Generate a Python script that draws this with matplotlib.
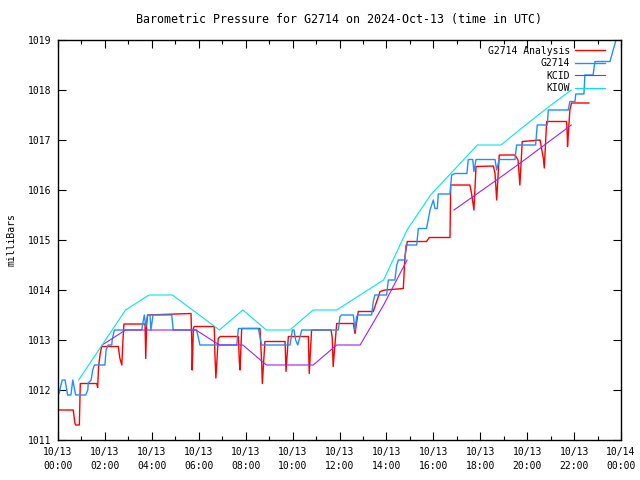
import numpy as np
import matplotlib
matplotlib.use("Agg")
import matplotlib.pyplot as plt

# time in hours since 2024-10-13 00:00 UTC, pressure in mb

# G2714 Analysis (red)
ana_t = [0.04, 0.65, 0.72, 0.75, 0.91, 0.95, 1.65, 1.69, 1.73, 1.80, 1.86, 2.57, 2.64, 2.72, 2.77, 2.81,
         3.71, 3.74, 3.78, 3.82, 5.67, 5.70, 5.72, 5.77, 5.81, 6.66, 6.69, 6.73, 6.83, 6.91, 7.69, 7.73,
         7.76, 7.83, 8.61, 8.68, 8.71, 8.82, 9.68, 9.72, 9.82, 10.67, 10.71, 10.81, 11.64, 11.69, 11.73,
         11.88, 12.59, 12.66, 12.80, 13.44, 13.73, 13.94, 14.72, 14.76, 14.79, 14.89, 15.71, 15.83, 16.71,
         16.74, 17.56, 17.63, 17.73, 17.82, 18.56, 18.63, 18.70, 18.81, 19.48, 19.61, 19.69, 19.79, 20.55,
         20.69, 20.73, 20.83, 21.68, 21.71, 21.72, 21.82, 21.89, 22.63]
ana_p = [1011.6, 1011.6, 1011.34, 1011.3, 1011.3, 1012.13, 1012.13, 1012.05, 1012.47, 1012.73, 1012.87,
         1012.87, 1012.63, 1012.5, 1013.0, 1013.32, 1013.32, 1012.63, 1013.32, 1013.5, 1013.53, 1012.97,
         1012.4, 1013.23, 1013.27, 1013.27, 1012.7, 1012.24, 1013.03, 1013.07, 1013.07, 1012.57, 1012.4,
         1013.23, 1013.23, 1012.57, 1012.13, 1012.97, 1012.97, 1012.37, 1013.07, 1013.07, 1012.33, 1013.2,
         1013.2, 1013.05, 1012.47, 1013.33, 1013.33, 1013.13, 1013.57, 1013.57, 1013.97, 1014.0, 1014.03,
         1014.4, 1014.67, 1014.97, 1014.97, 1015.05, 1015.05, 1016.1, 1016.1, 1015.93, 1015.6, 1016.47,
         1016.48, 1016.33, 1015.8, 1016.7, 1016.7, 1016.6, 1016.1, 1016.97, 1017.0, 1016.63, 1016.44,
         1017.37, 1017.37, 1017.1, 1016.87, 1017.6, 1017.74, 1017.74]

# G2714 station (blue)
stn_t = [0.04, 0.18, 0.30, 0.41, 0.55, 0.63, 0.75, 1.18, 1.27, 1.29, 1.41, 1.48, 1.55, 2.00, 2.05, 2.14,
         2.29, 2.31, 2.40, 3.57, 3.64, 3.68, 3.74, 3.82, 3.92, 3.96, 4.05, 4.13, 4.85, 4.91, 5.91, 6.05,
         7.62, 7.69, 8.54, 8.68, 9.89, 9.99, 10.06, 10.13, 10.22, 10.32, 10.39, 11.95, 12.02, 12.09, 12.59,
         12.66, 12.73, 12.80, 13.37, 13.44, 13.51, 14.01, 14.08, 14.36, 14.44, 14.51, 14.79, 14.83, 15.29,
         15.36, 15.71, 15.86, 16.00, 16.07, 16.17, 16.21, 16.71, 16.78, 16.92, 17.43, 17.49, 17.68, 17.73,
         17.82, 18.63, 18.70, 18.81, 19.48, 19.55, 20.36, 20.43, 20.86, 20.90, 21.75, 21.82, 22.04, 22.07,
         22.42, 22.46, 22.81, 22.89, 23.53, 23.81]
stn_p = [1011.93, 1012.2, 1012.2, 1011.9, 1011.9, 1012.2, 1011.9, 1011.9, 1012.0, 1012.14, 1012.2, 1012.4,
         1012.5, 1012.5, 1012.8, 1012.9, 1012.9, 1013.0, 1013.2, 1013.2, 1013.4, 1013.5, 1013.27, 1013.5,
         1013.5, 1013.2, 1013.5, 1013.5, 1013.5, 1013.2, 1013.2, 1012.9, 1012.9, 1013.23, 1013.23, 1012.9,
         1012.9, 1013.2, 1013.2, 1013.0, 1012.9, 1013.07, 1013.2, 1013.2, 1013.47, 1013.5, 1013.5, 1013.2,
         1013.47, 1013.5, 1013.5, 1013.77, 1013.9, 1013.9, 1014.2, 1014.2, 1014.5, 1014.6, 1014.6, 1014.9,
         1014.9, 1015.23, 1015.23, 1015.6, 1015.8, 1015.63, 1015.63, 1015.92, 1015.92, 1016.3, 1016.33,
         1016.33, 1016.61, 1016.61, 1016.37, 1016.61, 1016.61, 1016.4, 1016.61, 1016.61, 1016.9, 1016.9,
         1017.3, 1017.3, 1017.6, 1017.6, 1017.77, 1017.77, 1017.92, 1017.92, 1018.3, 1018.3, 1018.57,
         1018.57, 1019.04]

# KCID hourly obs (purple)
kcid_t = [1.88, 2.88, 3.88, 4.88, 5.88, 6.88, 7.88, 8.88, 9.88, 10.88, 11.88, 12.88, 13.88, 14.88,
          15.88, 16.88, 17.88, 18.88, 19.88, 20.88, 21.88]
kcid_p = [1012.9, 1013.2, 1013.2, 1013.2, 1013.2, 1012.9, 1012.9, 1012.5, 1012.5, 1012.5, 1012.9,
          1012.9, 1013.7, 1014.6, np.nan, 1015.6, 1015.93, 1016.26, 1016.6, 1016.95, 1017.3]

# KIOW hourly obs (cyan)
kiow_t = [0.88, 1.88, 2.88, 3.88, 4.88, 5.88, 6.88, 7.88, 8.88, 9.88, 10.88, 11.88, 12.88, 13.88,
          14.88, 15.88, 16.88, 17.88, 18.88, 19.88, 20.88, 21.88]
kiow_p = [1012.2, 1012.9, 1013.6, 1013.9, 1013.9, 1013.55, 1013.2, 1013.6, 1013.2, 1013.2, 1013.6,
          1013.6, 1013.9, 1014.2, 1015.2, 1015.9, 1016.4, 1016.9, 1016.9, 1017.28, 1017.65, 1018.0]

tick_hours = list(range(0, 25, 2))
tick_labels = ['10/13\n%02d:00' % h for h in range(0, 24, 2)] + ['10/14\n00:00']

plt.rcParams['font.family'] = 'DejaVu Sans Mono'
plt.rcParams['font.size'] = 7

fig = plt.figure(figsize=(6.4, 4.8), dpi=100)
ax = fig.add_axes([58 / 640, 40 / 480, 563 / 640, 400 / 480])

ax.plot(ana_t, ana_p, color='#ff0000', lw=1.0, label='G2714 Analysis')
ax.plot(stn_t, stn_p, color='#1e90ff', lw=1.0, label='G2714')
ax.plot(kcid_t, kcid_p, color='#a020f0', lw=0.8, label='KCID')
ax.plot(kiow_t, kiow_p, color='#00e6e6', lw=0.8, label='KIOW')

ax.set_xlim(0, 24)
ax.set_ylim(1011, 1019)
ax.set_xticks(tick_hours)
ax.set_xticklabels(tick_labels, linespacing=1.5)
ax.set_xticks(range(1, 24, 2), minor=True)
ax.set_yticks(range(1011, 1020))
ax.tick_params(which='major', direction='in', length=6, width=0.8, top=True, right=True, pad=5)
ax.tick_params(which='minor', direction='in', length=3, width=0.8, top=True, right=True)
for s in ax.spines.values():
    s.set_linewidth(1.0)

ax.set_ylabel('milliBars', labelpad=8)
ax.set_title('Barometric Pressure for G2714 on 2024-Oct-13 (time in UTC)', pad=12)

ax.legend(loc='upper right', bbox_to_anchor=(0.985, 1.005), frameon=False, markerfirst=False,
          handlelength=3.1, handletextpad=0.5, labelspacing=0.25, borderpad=0.3)

fig.savefig('out.png', dpi=100)
